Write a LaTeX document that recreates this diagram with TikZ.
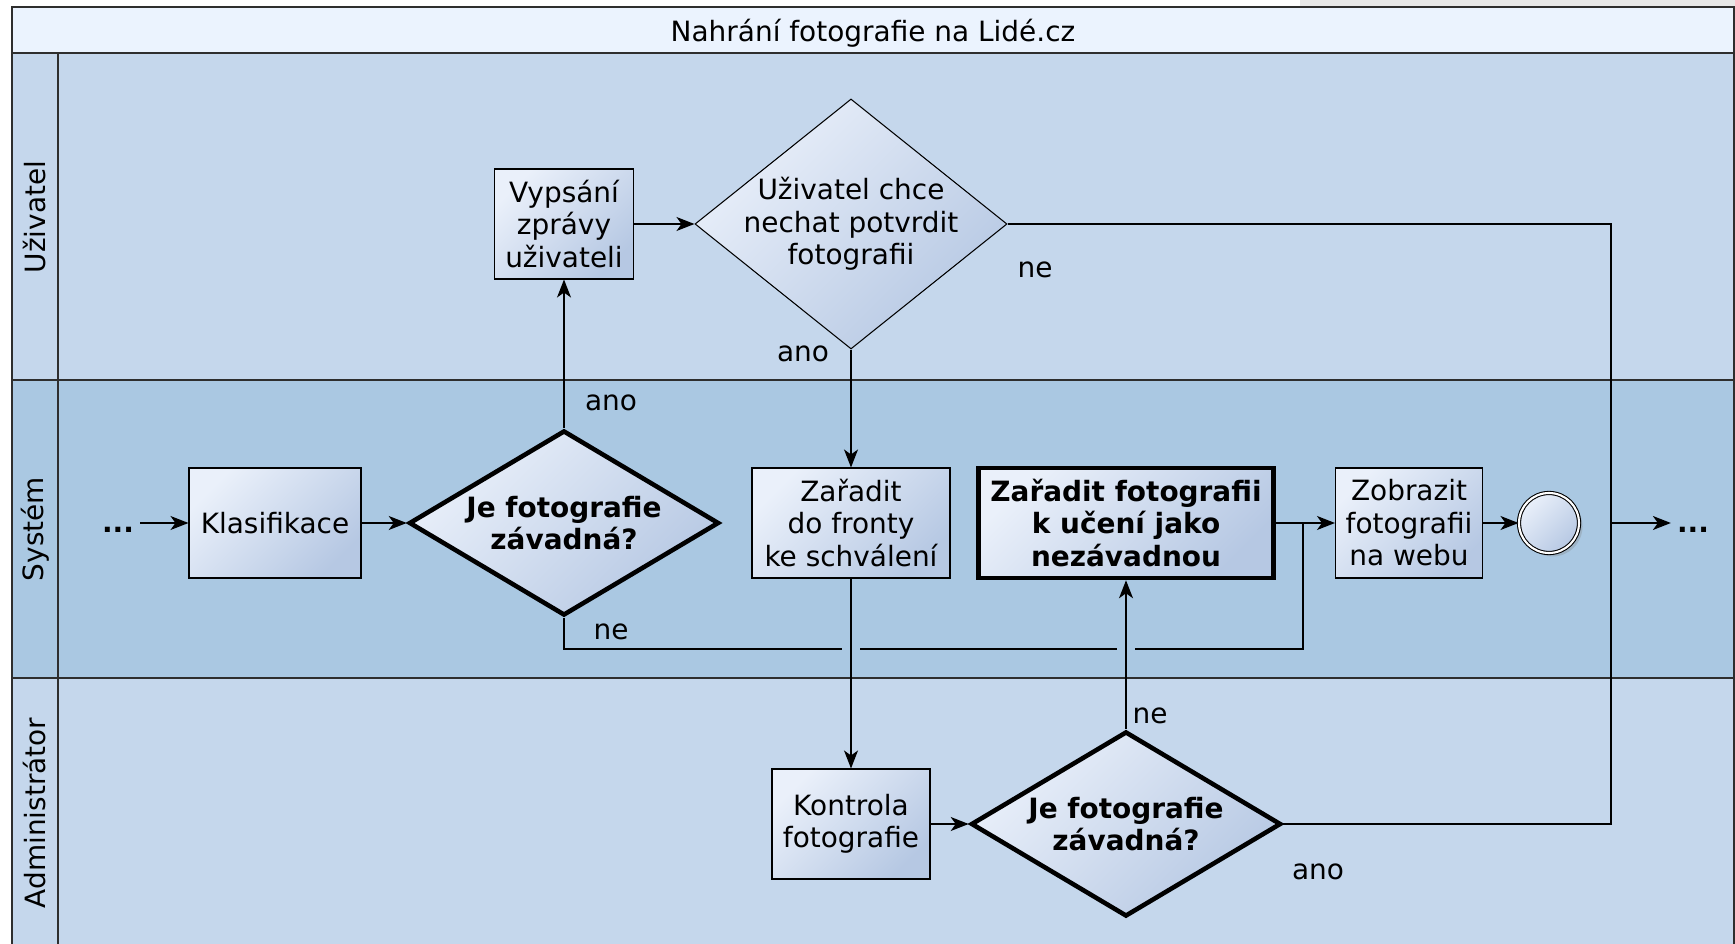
\documentclass[tikz,border=0pt]{standalone}
\usepackage{fontspec}
\setmainfont{DejaVu Sans}
\usetikzlibrary{calc}
\usetikzlibrary{graphs}
\usetikzlibrary{shapes}
\usetikzlibrary{shadows}
\usetikzlibrary{positioning}
\usetikzlibrary{arrows.meta}

\definecolor{titleblue}{HTML}{EBF3FE}
\definecolor{laneblue}{HTML}{C5D7EC}
\definecolor{sysblue}{HTML}{AAC8E2}
\definecolor{boxlight}{HTML}{EAF0FA}
\definecolor{boxdark}{HTML}{B6C8E3}
\definecolor{framegray}{HTML}{2E2E2E}

\newcommand{\lanefont}{\fontsize{15.9}{18.5}\selectfont}

\begin{document}
\begin{tikzpicture}[x=0.2mm, y=-0.2mm,
    every node/.style={font=\lanefont, align=center},
    task/.style={draw, line width=.6pt, minimum height=2.2cm, inner sep=1pt,
        top color=boxlight, bottom color=boxdark, shading angle=45},
    key task/.style={task, line width=2.6pt, font=\lanefont\bfseries},
    choice/.style={diamond, draw, line width=.6pt, inner sep=0pt,
        top color=boxlight, bottom color=boxdark, shading angle=45},
    key choice/.style={choice, line width=2.6pt, font=\lanefont\bfseries,
        aspect=1.66, minimum width=6.2cm, minimum height=3.7cm},
    dots/.style={font=\lanefont\bfseries, text height=10.5pt, text depth=0pt},
    flow/.style={draw, line width=.85pt},
    flow arrow/.style={-{Stealth[length=3.6mm, width=2.8mm, inset=1mm]}}]
        \useasboundingbox (0,0) rectangle (1735,944);

        % swimlanes
        \fill[black!9] (1300,0) rectangle (1735,7);
        \fill[titleblue] (12,7) rectangle (1734,53);
        \fill[laneblue] (12,53) rectangle (1734,380);
        \fill[sysblue] (12,380) rectangle (1734,678);
        \fill[laneblue] (12,678) rectangle (1734,944);
        \draw[framegray, line width=1.1pt] (12,944) -- (12,7) -- (1734,7) -- (1734,944);
        \foreach \y in {53,380,678}
            \draw[framegray, line width=1pt] (12,\y) -- (1734,\y);
        \draw[framegray, line width=.8pt] (58,53) -- (58,944);

        \node (title) at (873,33) {Nahrání fotografie na Lidé.cz};
        \node[rotate=90] (user lane) at (35,217) {Uživatel};
        \node[rotate=90] (system lane) at (35,529) {Systém};
        \node[rotate=90] (admin lane) at (35,813) {Administrátor};

        % activities
        \node[dots] (in dots) at (118,523) {...};
        \node[task, minimum width=3.44cm] (classify) at (275,523) {Klasifikace};
        \node[key choice] (auto check) at (564,523) {Je fotografie\\závadná?};
        \node[task, minimum width=2.78cm] (message) at (564,224) {Vypsání\\zprávy\\uživateli};
        \node[choice, aspect=1.25, inner sep=-1.5mm, minimum width=6.24cm, minimum height=5cm] (confirm) at (851,224) {Uživatel chce\\nechat potvrdit\\fotografii};
        \node[task, minimum width=3.96cm] (queue) at (851,523) {Zařadit\\do fronty\\ke schválení};
        \node[key task, minimum width=5.9cm] (learn) at (1126,523) {Zařadit fotografii\\k učení jako\\nezávadnou};
        \node[task, minimum width=2.94cm] (publish) at (1409,523) {Zobrazit\\fotografii\\na webu};
        \node[circle, draw, line width=.6pt, double=white, double distance=1.2pt, minimum size=1.2cm,
            top color=boxlight, bottom color=boxdark, shading angle=45,
            drop shadow={opacity=.3, shadow xshift=.7mm, shadow yshift=-.7mm}] (end) at (1549,523) {};
        \node[dots] (out dots) at (1693,523) {...};
        \node[task, minimum width=3.16cm] (review) at (851,824) {Kontrola\\fotografie};
        \node[key choice] (admin check) at (1126,824) {Je fotografie\\závadná?};

        % branch labels
        \node (ne confirm) at (1035,270) {ne};
        \node (ano confirm) at (803,354) {ano};
        \node (ano auto) at (611,403) {ano};
        \node (ne auto) at (611,632) {ne};
        \node (ne admin) at (1150,716) {ne};
        \node (ano admin) at (1318,872) {ano};

        \coordinate (merge) at (1303,523);
        \coordinate (exit) at (1611,523);

        \draw[flow] (auto check.south) -- ++(0,31) -| (merge);
        \foreach \x in {851,1126}
            \fill[sysblue] (\x-9,644) rectangle (\x+9,652);

        \graph { [edges={flow, flow arrow}]
            (in dots) -> (classify) -> (auto check),
            (auto check) -> (message) -> (confirm) -> (queue) -> (review) -> (admin check) -> (learn) -> (publish) -> (end),
            (exit) -> (out dots),
        };

        \draw[flow] (confirm.east) -| (exit);
        \draw[flow] (admin check.east) -| (exit);
    \end{tikzpicture}
\end{document}
